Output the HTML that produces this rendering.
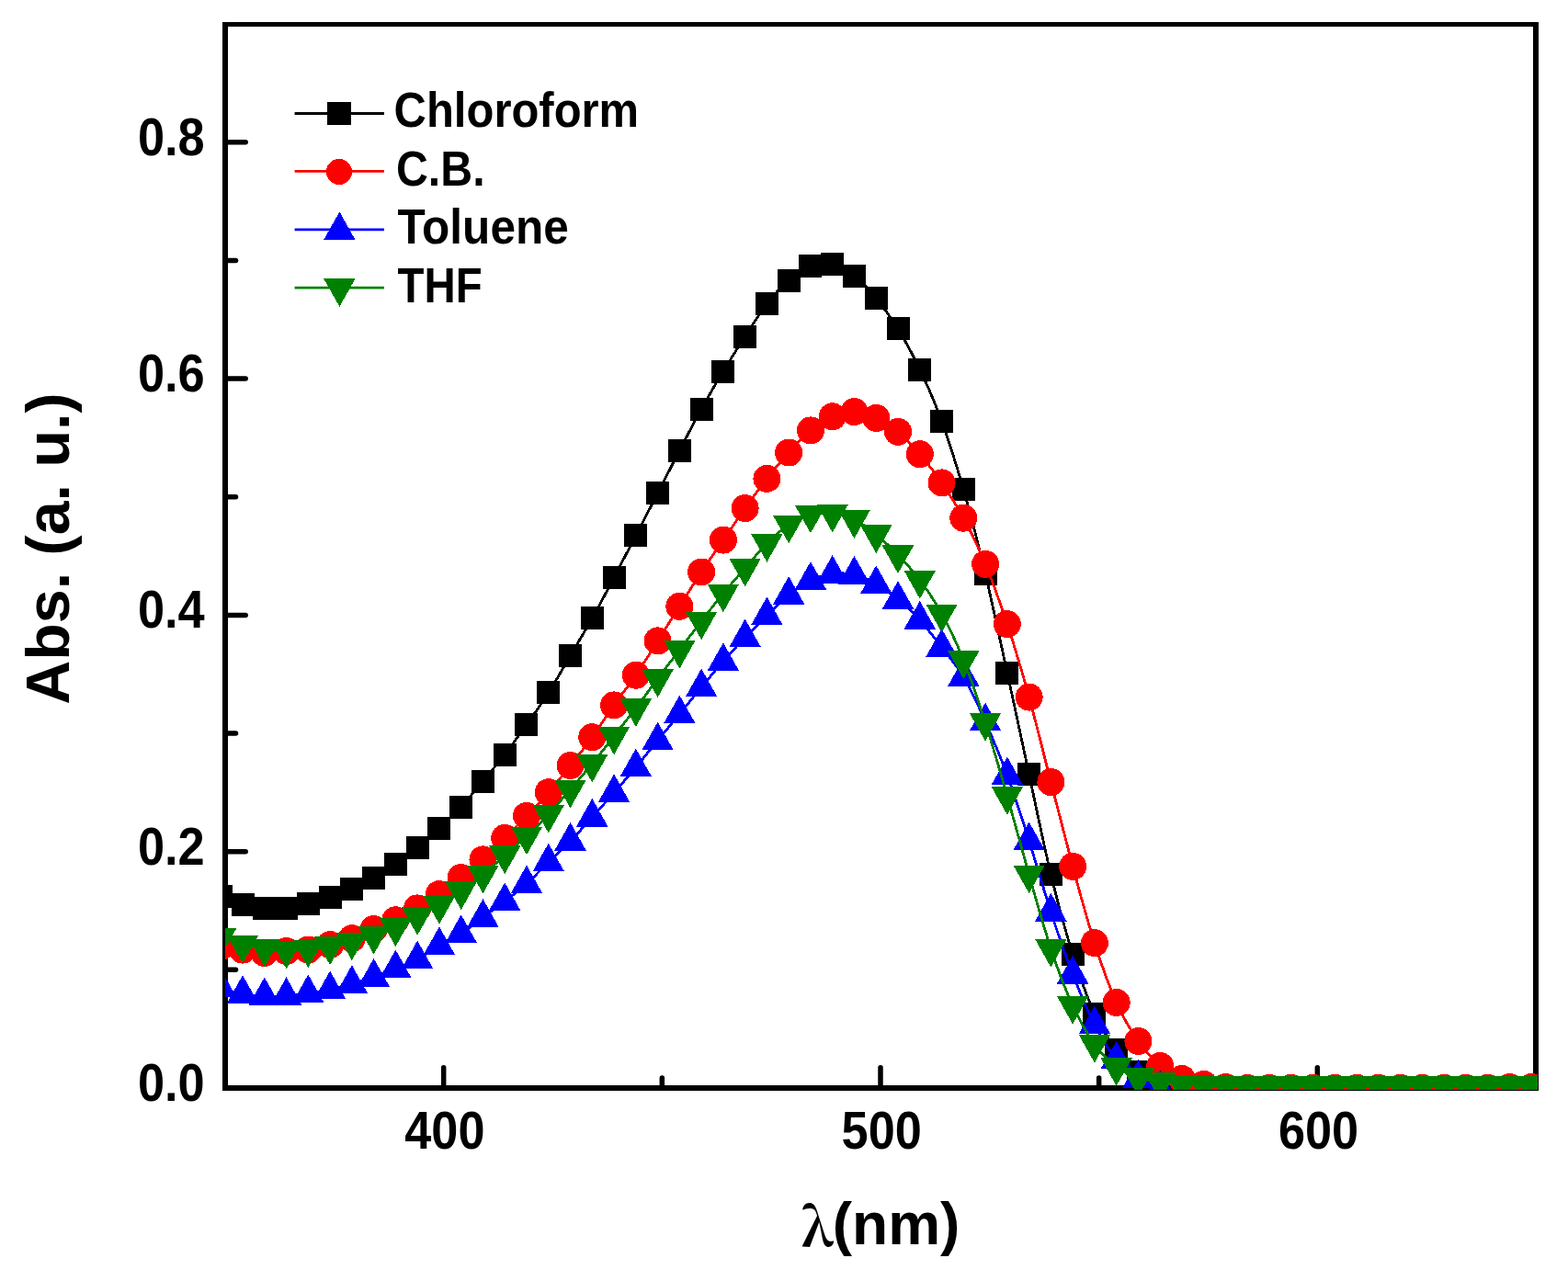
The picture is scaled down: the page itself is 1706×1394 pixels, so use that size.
<!DOCTYPE html>
<html><head><meta charset="utf-8"><title>Absorption spectra</title>
<style>
html,body{margin:0;padding:0;background:#fff;}
body{width:1706px;height:1394px;overflow:hidden;}
svg{display:block;}
text{font-family:"Liberation Sans",sans-serif;font-weight:bold;fill:#000;}
</style></head><body>
<svg width="1706" height="1394" viewBox="0 0 1706 1394">
<defs><clipPath id="pa"><rect x="245" y="26" width="1428" height="1160"/></clipPath></defs>
<rect x="0" y="0" width="1706" height="1394" fill="#fff"/>

<g fill="#000">
<rect x="242" y="24" width="6" height="1163"/>
<rect x="1668" y="24" width="6" height="1163"/>
<rect x="242" y="24" width="1432" height="5"/>
<rect x="242" y="1181" width="1432" height="6"/>
</g>
<g stroke="#000" stroke-width="5.5" stroke-linecap="round" fill="none">
<line x1="245" y1="926.7" x2="267.2" y2="926.7"/>
<line x1="245" y1="669.4" x2="267.2" y2="669.4"/>
<line x1="245" y1="412.1" x2="267.2" y2="412.1"/>
<line x1="245" y1="154.8" x2="267.2" y2="154.8"/>
<line x1="245" y1="1055.35" x2="256.5" y2="1055.35"/>
<line x1="245" y1="798.05" x2="256.5" y2="798.05"/>
<line x1="245" y1="540.75" x2="256.5" y2="540.75"/>
<line x1="245" y1="283.45" x2="256.5" y2="283.45"/>
<line x1="482.67" y1="1184" x2="482.67" y2="1161.7"/>
<line x1="958" y1="1184" x2="958" y2="1161.7"/>
<line x1="1433.33" y1="1184" x2="1433.33" y2="1161.7"/>
<line x1="720.33" y1="1184" x2="720.33" y2="1173"/>
<line x1="1195.67" y1="1184" x2="1195.67" y2="1173"/>
</g>
<g clip-path="url(#pa)" shape-rendering="crispEdges">
<path d="M240.25 975.8C248.17 978.83 256.09 981.87 264.01 984C271.94 986.13 279.86 987.36 287.78 988C295.7 988.64 303.62 988.69 311.55 988C319.47 987.31 327.39 985.88 335.31 983.9C343.24 981.92 351.16 979.39 359.08 976.7C367 974.01 374.92 971.17 382.85 967.7C390.77 964.23 398.69 960.12 406.61 955.5C414.54 950.88 422.46 945.76 430.38 940.3C438.3 934.84 446.22 929.03 454.15 922.4C462.07 915.77 469.99 908.32 477.91 901C485.84 893.68 493.76 886.5 501.68 878C509.6 869.5 517.52 859.67 525.45 850.1C533.37 840.53 541.29 831.23 549.21 821C557.14 810.77 565.06 799.6 572.98 788.5C580.9 777.4 588.82 766.35 596.75 753.8C604.67 741.25 612.59 727.19 620.51 713.6C628.44 700.01 636.36 686.89 644.28 672.8C652.2 658.71 660.12 643.66 668.05 628.5C675.97 613.34 683.89 598.07 691.81 582.8C699.74 567.53 707.66 552.28 715.58 536.8C723.5 521.32 731.42 505.62 739.35 490.2C747.27 474.78 755.19 459.62 763.11 445.2C771.04 430.78 778.96 417.08 786.88 404C794.8 390.92 802.72 378.45 810.65 366C818.57 353.55 826.49 341.12 834.41 330.7C842.34 320.28 850.26 311.86 858.18 305C866.1 298.14 874.02 292.84 881.95 289.8C889.87 286.76 897.79 285.99 905.71 287.7C913.64 289.41 921.56 293.6 929.48 300C937.4 306.4 945.32 315.02 953.25 324.7C961.17 334.38 969.09 345.11 977.01 357.9C984.94 370.69 992.86 385.54 1000.78 402C1008.7 418.46 1016.62 436.52 1024.55 458.2C1032.47 479.88 1040.39 505.19 1048.31 532.9C1056.24 560.61 1064.16 590.72 1072.08 624.4C1080 658.08 1087.92 695.33 1095.85 732C1103.77 768.67 1111.69 804.75 1119.61 842.2C1127.54 879.65 1135.46 918.46 1143.38 951.8C1151.3 985.14 1159.22 1012.99 1167.15 1038.2C1175.07 1063.41 1182.99 1085.97 1190.91 1103.1C1198.84 1120.23 1206.76 1131.93 1214.68 1142C1222.6 1152.07 1230.52 1160.51 1238.45 1166.2C1246.37 1171.89 1254.29 1174.84 1262.21 1177C1270.14 1179.16 1278.06 1180.53 1285.98 1181.5C1293.9 1182.47 1301.82 1183.03 1309.75 1183.5C1317.67 1183.97 1325.59 1184.36 1333.51 1184.5C1341.44 1184.64 1349.36 1184.54 1357.28 1184.5C1365.2 1184.46 1373.12 1184.49 1381.05 1184.5C1388.97 1184.51 1396.89 1184.5 1404.81 1184.5C1412.74 1184.5 1420.66 1184.5 1428.58 1184.5C1436.5 1184.5 1444.42 1184.5 1452.35 1184.5C1460.27 1184.5 1468.19 1184.5 1476.11 1184.5C1484.04 1184.5 1491.96 1184.5 1499.88 1184.5C1507.8 1184.5 1515.72 1184.5 1523.65 1184.5C1531.57 1184.5 1539.49 1184.5 1547.41 1184.5C1555.34 1184.5 1563.26 1184.5 1571.18 1184.5C1579.1 1184.5 1587.02 1184.5 1594.95 1184.5C1602.87 1184.5 1610.79 1184.5 1618.71 1184.5C1626.64 1184.5 1634.56 1184.5 1642.48 1184.5C1650.4 1184.5 1658.32 1184.5 1666.25 1184.5" fill="none" stroke="#000000" stroke-width="2.8" stroke-linejoin="round"/>
<g fill="#000000"><rect x="227.75" y="963.3" width="25" height="25"/><rect x="251.51" y="971.5" width="25" height="25"/><rect x="275.28" y="975.5" width="25" height="25"/><rect x="299.05" y="975.5" width="25" height="25"/><rect x="322.81" y="971.4" width="25" height="25"/><rect x="346.58" y="964.2" width="25" height="25"/><rect x="370.35" y="955.2" width="25" height="25"/><rect x="394.11" y="943" width="25" height="25"/><rect x="417.88" y="927.8" width="25" height="25"/><rect x="441.65" y="909.9" width="25" height="25"/><rect x="465.41" y="888.5" width="25" height="25"/><rect x="489.18" y="865.5" width="25" height="25"/><rect x="512.95" y="837.6" width="25" height="25"/><rect x="536.71" y="808.5" width="25" height="25"/><rect x="560.48" y="776" width="25" height="25"/><rect x="584.25" y="741.3" width="25" height="25"/><rect x="608.01" y="701.1" width="25" height="25"/><rect x="631.78" y="660.3" width="25" height="25"/><rect x="655.55" y="616" width="25" height="25"/><rect x="679.31" y="570.3" width="25" height="25"/><rect x="703.08" y="524.3" width="25" height="25"/><rect x="726.85" y="477.7" width="25" height="25"/><rect x="750.61" y="432.7" width="25" height="25"/><rect x="774.38" y="391.5" width="25" height="25"/><rect x="798.15" y="353.5" width="25" height="25"/><rect x="821.91" y="318.2" width="25" height="25"/><rect x="845.68" y="292.5" width="25" height="25"/><rect x="869.45" y="277.3" width="25" height="25"/><rect x="893.21" y="275.2" width="25" height="25"/><rect x="916.98" y="287.5" width="25" height="25"/><rect x="940.75" y="312.2" width="25" height="25"/><rect x="964.51" y="345.4" width="25" height="25"/><rect x="988.28" y="389.5" width="25" height="25"/><rect x="1012.05" y="445.7" width="25" height="25"/><rect x="1035.81" y="520.4" width="25" height="25"/><rect x="1059.58" y="611.9" width="25" height="25"/><rect x="1083.35" y="719.5" width="25" height="25"/><rect x="1107.11" y="829.7" width="25" height="25"/><rect x="1130.88" y="939.3" width="25" height="25"/><rect x="1154.65" y="1025.7" width="25" height="25"/><rect x="1178.41" y="1090.6" width="25" height="25"/><rect x="1202.18" y="1129.5" width="25" height="25"/><rect x="1225.95" y="1153.7" width="25" height="25"/><rect x="1249.71" y="1164.5" width="25" height="25"/><rect x="1273.48" y="1169" width="25" height="25"/><rect x="1297.25" y="1171" width="25" height="25"/><rect x="1321.01" y="1172" width="25" height="25"/><rect x="1344.78" y="1172" width="25" height="25"/><rect x="1368.55" y="1172" width="25" height="25"/><rect x="1392.31" y="1172" width="25" height="25"/><rect x="1416.08" y="1172" width="25" height="25"/><rect x="1439.85" y="1172" width="25" height="25"/><rect x="1463.61" y="1172" width="25" height="25"/><rect x="1487.38" y="1172" width="25" height="25"/><rect x="1511.15" y="1172" width="25" height="25"/><rect x="1534.91" y="1172" width="25" height="25"/><rect x="1558.68" y="1172" width="25" height="25"/><rect x="1582.45" y="1172" width="25" height="25"/><rect x="1606.21" y="1172" width="25" height="25"/><rect x="1629.98" y="1172" width="25" height="25"/><rect x="1653.75" y="1172" width="25" height="25"/></g>
<path d="M240.25 1030C248.17 1031.09 256.09 1032.19 264.01 1033.6C271.94 1035.01 279.86 1036.75 287.78 1036.9C295.7 1037.05 303.62 1035.63 311.55 1035C319.47 1034.37 327.39 1034.55 335.31 1033.5C343.24 1032.45 351.16 1030.19 359.08 1028.1C367 1026.01 374.92 1024.09 382.85 1021.2C390.77 1018.31 398.69 1014.44 406.61 1011.1C414.54 1007.76 422.46 1004.96 430.38 1001.3C438.3 997.64 446.22 993.14 454.15 988.4C462.07 983.66 469.99 978.69 477.91 973.1C485.84 967.51 493.76 961.32 501.68 955.1C509.6 948.88 517.52 942.64 525.45 935.4C533.37 928.16 541.29 919.94 549.21 911.9C557.14 903.86 565.06 896.01 572.98 887.9C580.9 879.79 588.82 871.42 596.75 862.2C604.67 852.98 612.59 842.92 620.51 833C628.44 823.08 636.36 813.32 644.28 802.2C652.2 791.08 660.12 778.62 668.05 767.4C675.97 756.18 683.89 746.22 691.81 734.7C699.74 723.18 707.66 710.11 715.58 697.4C723.5 684.69 731.42 672.34 739.35 659.8C747.27 647.26 755.19 634.54 763.11 622.5C771.04 610.46 778.96 599.12 786.88 587.6C794.8 576.08 802.72 564.4 810.65 553.1C818.57 541.8 826.49 530.9 834.41 520.8C842.34 510.7 850.26 501.4 858.18 492.5C866.1 483.6 874.02 475.1 881.95 468.4C889.87 461.7 897.79 456.79 905.71 453.3C913.64 449.81 921.56 447.73 929.48 448.1C937.4 448.47 945.32 451.27 953.25 455C961.17 458.73 969.09 463.38 977.01 469.9C984.94 476.42 992.86 484.81 1000.78 494.2C1008.7 503.59 1016.62 513.99 1024.55 525.4C1032.47 536.81 1040.39 549.23 1048.31 563.7C1056.24 578.17 1064.16 594.69 1072.08 613.9C1080 633.11 1087.92 655.01 1095.85 679.1C1103.77 703.19 1111.69 729.47 1119.61 758.6C1127.54 787.73 1135.46 819.72 1143.38 851.1C1151.3 882.48 1159.22 913.27 1167.15 942.9C1175.07 972.53 1182.99 1001.01 1190.91 1026.2C1198.84 1051.39 1206.76 1073.3 1214.68 1090.9C1222.6 1108.5 1230.52 1121.8 1238.45 1133C1246.37 1144.2 1254.29 1153.29 1262.21 1160C1270.14 1166.71 1278.06 1171.04 1285.98 1174C1293.9 1176.96 1301.82 1178.53 1309.75 1179.9C1317.67 1181.27 1325.59 1182.42 1333.51 1183.1C1341.44 1183.78 1349.36 1183.98 1357.28 1184C1365.2 1184.02 1373.12 1183.86 1381.05 1183.8C1388.97 1183.74 1396.89 1183.78 1404.81 1183.8C1412.74 1183.82 1420.66 1183.8 1428.58 1183.8C1436.5 1183.8 1444.42 1183.8 1452.35 1183.8C1460.27 1183.8 1468.19 1183.8 1476.11 1183.8C1484.04 1183.8 1491.96 1183.8 1499.88 1183.8C1507.8 1183.8 1515.72 1183.8 1523.65 1183.8C1531.57 1183.8 1539.49 1183.8 1547.41 1183.8C1555.34 1183.8 1563.26 1183.81 1571.18 1183.8C1579.1 1183.79 1587.02 1183.76 1594.95 1183.8C1602.87 1183.84 1610.79 1183.97 1618.71 1183.8C1626.64 1183.63 1634.56 1183.18 1642.48 1183C1650.4 1182.82 1658.32 1182.91 1666.25 1183" fill="none" stroke="#ff0000" stroke-width="2.8" stroke-linejoin="round"/>
<g fill="#ff0000"><circle cx="240.25" cy="1030" r="15"/><circle cx="264.01" cy="1033.6" r="15"/><circle cx="287.78" cy="1036.9" r="15"/><circle cx="311.55" cy="1035" r="15"/><circle cx="335.31" cy="1033.5" r="15"/><circle cx="359.08" cy="1028.1" r="15"/><circle cx="382.85" cy="1021.2" r="15"/><circle cx="406.61" cy="1011.1" r="15"/><circle cx="430.38" cy="1001.3" r="15"/><circle cx="454.15" cy="988.4" r="15"/><circle cx="477.91" cy="973.1" r="15"/><circle cx="501.68" cy="955.1" r="15"/><circle cx="525.45" cy="935.4" r="15"/><circle cx="549.21" cy="911.9" r="15"/><circle cx="572.98" cy="887.9" r="15"/><circle cx="596.75" cy="862.2" r="15"/><circle cx="620.51" cy="833" r="15"/><circle cx="644.28" cy="802.2" r="15"/><circle cx="668.05" cy="767.4" r="15"/><circle cx="691.81" cy="734.7" r="15"/><circle cx="715.58" cy="697.4" r="15"/><circle cx="739.35" cy="659.8" r="15"/><circle cx="763.11" cy="622.5" r="15"/><circle cx="786.88" cy="587.6" r="15"/><circle cx="810.65" cy="553.1" r="15"/><circle cx="834.41" cy="520.8" r="15"/><circle cx="858.18" cy="492.5" r="15"/><circle cx="881.95" cy="468.4" r="15"/><circle cx="905.71" cy="453.3" r="15"/><circle cx="929.48" cy="448.1" r="15"/><circle cx="953.25" cy="455" r="15"/><circle cx="977.01" cy="469.9" r="15"/><circle cx="1000.78" cy="494.2" r="15"/><circle cx="1024.55" cy="525.4" r="15"/><circle cx="1048.31" cy="563.7" r="15"/><circle cx="1072.08" cy="613.9" r="15"/><circle cx="1095.85" cy="679.1" r="15"/><circle cx="1119.61" cy="758.6" r="15"/><circle cx="1143.38" cy="851.1" r="15"/><circle cx="1167.15" cy="942.9" r="15"/><circle cx="1190.91" cy="1026.2" r="15"/><circle cx="1214.68" cy="1090.9" r="15"/><circle cx="1238.45" cy="1133" r="15"/><circle cx="1262.21" cy="1160" r="15"/><circle cx="1285.98" cy="1174" r="15"/><circle cx="1309.75" cy="1179.9" r="15"/><circle cx="1333.51" cy="1183.1" r="15"/><circle cx="1357.28" cy="1184" r="15"/><circle cx="1381.05" cy="1183.8" r="15"/><circle cx="1404.81" cy="1183.8" r="15"/><circle cx="1428.58" cy="1183.8" r="15"/><circle cx="1452.35" cy="1183.8" r="15"/><circle cx="1476.11" cy="1183.8" r="15"/><circle cx="1499.88" cy="1183.8" r="15"/><circle cx="1523.65" cy="1183.8" r="15"/><circle cx="1547.41" cy="1183.8" r="15"/><circle cx="1571.18" cy="1183.8" r="15"/><circle cx="1594.95" cy="1183.8" r="15"/><circle cx="1618.71" cy="1183.8" r="15"/><circle cx="1642.48" cy="1183" r="15"/><circle cx="1666.25" cy="1183" r="15"/></g>
<path d="M240.25 1075.1C248.17 1077.62 256.09 1080.13 264.01 1081.6C271.94 1083.07 279.86 1083.49 287.78 1083.8C295.7 1084.11 303.62 1084.31 311.55 1083.8C319.47 1083.29 327.39 1082.07 335.31 1080.9C343.24 1079.73 351.16 1078.59 359.08 1076.9C367 1075.21 374.92 1072.96 382.85 1070.7C390.77 1068.44 398.69 1066.17 406.61 1063.3C414.54 1060.43 422.46 1056.95 430.38 1053.9C438.3 1050.85 446.22 1048.22 454.15 1043.9C462.07 1039.58 469.99 1033.56 477.91 1028.8C485.84 1024.04 493.76 1020.54 501.68 1015.7C509.6 1010.86 517.52 1004.68 525.45 998.6C533.37 992.52 541.29 986.54 549.21 980.7C557.14 974.86 565.06 969.15 572.98 961.9C580.9 954.65 588.82 945.84 596.75 938C604.67 930.16 612.59 923.29 620.51 915.3C628.44 907.31 636.36 898.2 644.28 889.3C652.2 880.4 660.12 871.7 668.05 862.7C675.97 853.7 683.89 844.4 691.81 834.9C699.74 825.4 707.66 815.71 715.58 806C723.5 796.29 731.42 786.57 739.35 776.9C747.27 767.23 755.19 757.61 763.11 748C771.04 738.39 778.96 728.79 786.88 719.7C794.8 710.61 802.72 702.04 810.65 693.8C818.57 685.56 826.49 677.64 834.41 669.8C842.34 661.96 850.26 654.18 858.18 647.5C866.1 640.82 874.02 635.22 881.95 631.4C889.87 627.58 897.79 625.54 905.71 624.5C913.64 623.46 921.56 623.43 929.48 625.3C937.4 627.17 945.32 630.93 953.25 635.7C961.17 640.47 969.09 646.25 977.01 652.5C984.94 658.75 992.86 665.47 1000.78 674.4C1008.7 683.33 1016.62 694.46 1024.55 704.5C1032.47 714.54 1040.39 723.5 1048.31 736.6C1056.24 749.7 1064.16 766.95 1072.08 785.1C1080 803.25 1087.92 822.3 1095.85 843.8C1103.77 865.3 1111.69 889.26 1119.61 914.8C1127.54 940.34 1135.46 967.46 1143.38 992.3C1151.3 1017.14 1159.22 1039.69 1167.15 1060.2C1175.07 1080.71 1182.99 1099.18 1190.91 1114.9C1198.84 1130.62 1206.76 1143.58 1214.68 1153.1C1222.6 1162.62 1230.52 1168.71 1238.45 1173.6C1246.37 1178.49 1254.29 1182.18 1262.21 1185C1270.14 1187.82 1278.06 1189.75 1285.98 1191C1293.9 1192.25 1301.82 1192.8 1309.75 1193C1317.67 1193.2 1325.59 1193.05 1333.51 1193C1341.44 1192.95 1349.36 1192.99 1357.28 1193C1365.2 1193.01 1373.12 1193 1381.05 1193C1388.97 1193 1396.89 1193 1404.81 1193C1412.74 1193 1420.66 1193 1428.58 1193C1436.5 1193 1444.42 1193 1452.35 1193C1460.27 1193 1468.19 1193 1476.11 1193C1484.04 1193 1491.96 1193 1499.88 1193C1507.8 1193 1515.72 1193 1523.65 1193C1531.57 1193 1539.49 1193 1547.41 1193C1555.34 1193 1563.26 1193 1571.18 1193C1579.1 1193 1587.02 1193 1594.95 1193C1602.87 1193 1610.79 1193 1618.71 1193C1626.64 1193 1634.56 1193 1642.48 1193C1650.4 1193 1658.32 1193 1666.25 1193" fill="none" stroke="#0000ff" stroke-width="2.8" stroke-linejoin="round"/>
<g fill="#0000ff"><path d="M240.25 1054.7L257.5 1085.4L223 1085.4Z"/><path d="M264.01 1061.2L281.26 1091.9L246.76 1091.9Z"/><path d="M287.78 1063.4L305.03 1094.1L270.53 1094.1Z"/><path d="M311.55 1063.4L328.8 1094.1L294.3 1094.1Z"/><path d="M335.31 1060.5L352.56 1091.2L318.06 1091.2Z"/><path d="M359.08 1056.5L376.33 1087.2L341.83 1087.2Z"/><path d="M382.85 1050.3L400.1 1081L365.6 1081Z"/><path d="M406.61 1042.9L423.86 1073.6L389.36 1073.6Z"/><path d="M430.38 1033.5L447.63 1064.2L413.13 1064.2Z"/><path d="M454.15 1023.5L471.4 1054.2L436.9 1054.2Z"/><path d="M477.91 1008.4L495.16 1039.1L460.66 1039.1Z"/><path d="M501.68 995.3L518.93 1026L484.43 1026Z"/><path d="M525.45 978.2L542.7 1008.9L508.2 1008.9Z"/><path d="M549.21 960.3L566.46 991L531.96 991Z"/><path d="M572.98 941.5L590.23 972.2L555.73 972.2Z"/><path d="M596.75 917.6L614 948.3L579.5 948.3Z"/><path d="M620.51 894.9L637.76 925.6L603.26 925.6Z"/><path d="M644.28 868.9L661.53 899.6L627.03 899.6Z"/><path d="M668.05 842.3L685.3 873L650.8 873Z"/><path d="M691.81 814.5L709.06 845.2L674.56 845.2Z"/><path d="M715.58 785.6L732.83 816.3L698.33 816.3Z"/><path d="M739.35 756.5L756.6 787.2L722.1 787.2Z"/><path d="M763.11 727.6L780.36 758.3L745.86 758.3Z"/><path d="M786.88 699.3L804.13 730L769.63 730Z"/><path d="M810.65 673.4L827.9 704.1L793.4 704.1Z"/><path d="M834.41 649.4L851.66 680.1L817.16 680.1Z"/><path d="M858.18 627.1L875.43 657.8L840.93 657.8Z"/><path d="M881.95 611L899.2 641.7L864.7 641.7Z"/><path d="M905.71 604.1L922.96 634.8L888.46 634.8Z"/><path d="M929.48 604.9L946.73 635.6L912.23 635.6Z"/><path d="M953.25 615.3L970.5 646L936 646Z"/><path d="M977.01 632.1L994.26 662.8L959.76 662.8Z"/><path d="M1000.78 654L1018.03 684.7L983.53 684.7Z"/><path d="M1024.55 684.1L1041.8 714.8L1007.3 714.8Z"/><path d="M1048.31 716.2L1065.56 746.9L1031.06 746.9Z"/><path d="M1072.08 764.7L1089.33 795.4L1054.83 795.4Z"/><path d="M1095.85 823.4L1113.1 854.1L1078.6 854.1Z"/><path d="M1119.61 894.4L1136.86 925.1L1102.36 925.1Z"/><path d="M1143.38 971.9L1160.63 1002.6L1126.13 1002.6Z"/><path d="M1167.15 1039.8L1184.4 1070.5L1149.9 1070.5Z"/><path d="M1190.91 1094.5L1208.16 1125.2L1173.66 1125.2Z"/><path d="M1214.68 1132.7L1231.93 1163.4L1197.43 1163.4Z"/><path d="M1238.45 1153.2L1255.7 1183.9L1221.2 1183.9Z"/><path d="M1262.21 1164.6L1279.46 1195.3L1244.96 1195.3Z"/><path d="M1285.98 1170.6L1303.23 1201.3L1268.73 1201.3Z"/><path d="M1309.75 1172.6L1327 1203.3L1292.5 1203.3Z"/><path d="M1333.51 1172.6L1350.76 1203.3L1316.26 1203.3Z"/><path d="M1357.28 1172.6L1374.53 1203.3L1340.03 1203.3Z"/><path d="M1381.05 1172.6L1398.3 1203.3L1363.8 1203.3Z"/><path d="M1404.81 1172.6L1422.06 1203.3L1387.56 1203.3Z"/><path d="M1428.58 1172.6L1445.83 1203.3L1411.33 1203.3Z"/><path d="M1452.35 1172.6L1469.6 1203.3L1435.1 1203.3Z"/><path d="M1476.11 1172.6L1493.36 1203.3L1458.86 1203.3Z"/><path d="M1499.88 1172.6L1517.13 1203.3L1482.63 1203.3Z"/><path d="M1523.65 1172.6L1540.9 1203.3L1506.4 1203.3Z"/><path d="M1547.41 1172.6L1564.66 1203.3L1530.16 1203.3Z"/><path d="M1571.18 1172.6L1588.43 1203.3L1553.93 1203.3Z"/><path d="M1594.95 1172.6L1612.2 1203.3L1577.7 1203.3Z"/><path d="M1618.71 1172.6L1635.96 1203.3L1601.46 1203.3Z"/><path d="M1642.48 1172.6L1659.73 1203.3L1625.23 1203.3Z"/><path d="M1666.25 1172.6L1683.5 1203.3L1649 1203.3Z"/></g>
<path d="M240.25 1020.2C248.17 1023 256.09 1025.8 264.01 1027.8C271.94 1029.8 279.86 1031.01 287.78 1032C295.7 1032.99 303.62 1033.76 311.55 1033.9C319.47 1034.04 327.39 1033.56 335.31 1032.8C343.24 1032.04 351.16 1031.02 359.08 1029.7C367 1028.38 374.92 1026.77 382.85 1024.8C390.77 1022.83 398.69 1020.5 406.61 1018.1C414.54 1015.7 422.46 1013.23 430.38 1009.7C438.3 1006.17 446.22 1001.58 454.15 997.5C462.07 993.42 469.99 989.85 477.91 985.3C485.84 980.75 493.76 975.21 501.68 969.7C509.6 964.19 517.52 958.7 525.45 952.1C533.37 945.5 541.29 937.8 549.21 930.7C557.14 923.6 565.06 917.09 572.98 909.9C580.9 902.71 588.82 894.83 596.75 886.2C604.67 877.57 612.59 868.17 620.51 859C628.44 849.83 636.36 840.87 644.28 831.2C652.2 821.53 660.12 811.16 668.05 801C675.97 790.84 683.89 780.91 691.81 770.5C699.74 760.09 707.66 749.21 715.58 738.6C723.5 727.99 731.42 717.64 739.35 707.2C747.27 696.76 755.19 686.22 763.11 675.9C771.04 665.58 778.96 655.47 786.88 645.9C794.8 636.33 802.72 627.3 810.65 618.1C818.57 608.9 826.49 599.52 834.41 591.4C842.34 583.28 850.26 576.4 858.18 571C866.1 565.6 874.02 561.67 881.95 559.8C889.87 557.93 897.79 558.13 905.71 559.1C913.64 560.07 921.56 561.83 929.48 565.6C937.4 569.37 945.32 575.15 953.25 581.7C961.17 588.25 969.09 595.57 977.01 603.7C984.94 611.83 992.86 620.77 1000.78 631.2C1008.7 641.63 1016.62 653.56 1024.55 667.8C1032.47 682.04 1040.39 698.59 1048.31 718.4C1056.24 738.21 1064.16 761.28 1072.08 786.3C1080 811.32 1087.92 838.29 1095.85 866.3C1103.77 894.31 1111.69 923.36 1119.61 951.8C1127.54 980.24 1135.46 1008.08 1143.38 1032.3C1151.3 1056.52 1159.22 1077.13 1167.15 1094.3C1175.07 1111.47 1182.99 1125.19 1190.91 1136.2C1198.84 1147.21 1206.76 1155.49 1214.68 1161.3C1222.6 1167.11 1230.52 1170.43 1238.45 1172.7C1246.37 1174.97 1254.29 1176.19 1262.21 1177.3C1270.14 1178.41 1278.06 1179.42 1285.98 1180.1C1293.9 1180.78 1301.82 1181.12 1309.75 1181.3C1317.67 1181.48 1325.59 1181.49 1333.51 1181.5C1341.44 1181.51 1349.36 1181.5 1357.28 1181.5C1365.2 1181.5 1373.12 1181.5 1381.05 1181.5C1388.97 1181.5 1396.89 1181.5 1404.81 1181.5C1412.74 1181.5 1420.66 1181.5 1428.58 1181.5C1436.5 1181.5 1444.42 1181.5 1452.35 1181.5C1460.27 1181.5 1468.19 1181.5 1476.11 1181.5C1484.04 1181.5 1491.96 1181.5 1499.88 1181.5C1507.8 1181.5 1515.72 1181.5 1523.65 1181.5C1531.57 1181.5 1539.49 1181.5 1547.41 1181.5C1555.34 1181.5 1563.26 1181.5 1571.18 1181.5C1579.1 1181.5 1587.02 1181.5 1594.95 1181.5C1602.87 1181.5 1610.79 1181.5 1618.71 1181.5C1626.64 1181.5 1634.56 1181.5 1642.48 1181.5C1650.4 1181.5 1658.32 1181.5 1666.25 1181.5" fill="none" stroke="#008000" stroke-width="2.8" stroke-linejoin="round"/>
<g fill="#008000"><path d="M240.25 1040.6L257.5 1009.9L223 1009.9Z"/><path d="M264.01 1048.2L281.26 1017.5L246.76 1017.5Z"/><path d="M287.78 1052.4L305.03 1021.7L270.53 1021.7Z"/><path d="M311.55 1054.3L328.8 1023.6L294.3 1023.6Z"/><path d="M335.31 1053.2L352.56 1022.5L318.06 1022.5Z"/><path d="M359.08 1050.1L376.33 1019.4L341.83 1019.4Z"/><path d="M382.85 1045.2L400.1 1014.5L365.6 1014.5Z"/><path d="M406.61 1038.5L423.86 1007.8L389.36 1007.8Z"/><path d="M430.38 1030.1L447.63 999.4L413.13 999.4Z"/><path d="M454.15 1017.9L471.4 987.2L436.9 987.2Z"/><path d="M477.91 1005.7L495.16 975L460.66 975Z"/><path d="M501.68 990.1L518.93 959.4L484.43 959.4Z"/><path d="M525.45 972.5L542.7 941.8L508.2 941.8Z"/><path d="M549.21 951.1L566.46 920.4L531.96 920.4Z"/><path d="M572.98 930.3L590.23 899.6L555.73 899.6Z"/><path d="M596.75 906.6L614 875.9L579.5 875.9Z"/><path d="M620.51 879.4L637.76 848.7L603.26 848.7Z"/><path d="M644.28 851.6L661.53 820.9L627.03 820.9Z"/><path d="M668.05 821.4L685.3 790.7L650.8 790.7Z"/><path d="M691.81 790.9L709.06 760.2L674.56 760.2Z"/><path d="M715.58 759L732.83 728.3L698.33 728.3Z"/><path d="M739.35 727.6L756.6 696.9L722.1 696.9Z"/><path d="M763.11 696.3L780.36 665.6L745.86 665.6Z"/><path d="M786.88 666.3L804.13 635.6L769.63 635.6Z"/><path d="M810.65 638.5L827.9 607.8L793.4 607.8Z"/><path d="M834.41 611.8L851.66 581.1L817.16 581.1Z"/><path d="M858.18 591.4L875.43 560.7L840.93 560.7Z"/><path d="M881.95 580.2L899.2 549.5L864.7 549.5Z"/><path d="M905.71 579.5L922.96 548.8L888.46 548.8Z"/><path d="M929.48 586L946.73 555.3L912.23 555.3Z"/><path d="M953.25 602.1L970.5 571.4L936 571.4Z"/><path d="M977.01 624.1L994.26 593.4L959.76 593.4Z"/><path d="M1000.78 651.6L1018.03 620.9L983.53 620.9Z"/><path d="M1024.55 688.2L1041.8 657.5L1007.3 657.5Z"/><path d="M1048.31 738.8L1065.56 708.1L1031.06 708.1Z"/><path d="M1072.08 806.7L1089.33 776L1054.83 776Z"/><path d="M1095.85 886.7L1113.1 856L1078.6 856Z"/><path d="M1119.61 972.2L1136.86 941.5L1102.36 941.5Z"/><path d="M1143.38 1052.7L1160.63 1022L1126.13 1022Z"/><path d="M1167.15 1114.7L1184.4 1084L1149.9 1084Z"/><path d="M1190.91 1156.6L1208.16 1125.9L1173.66 1125.9Z"/><path d="M1214.68 1181.7L1231.93 1151L1197.43 1151Z"/><path d="M1238.45 1193.1L1255.7 1162.4L1221.2 1162.4Z"/><path d="M1262.21 1197.7L1279.46 1167L1244.96 1167Z"/><path d="M1285.98 1200.5L1303.23 1169.8L1268.73 1169.8Z"/><path d="M1309.75 1201.7L1327 1171L1292.5 1171Z"/><path d="M1333.51 1201.9L1350.76 1171.2L1316.26 1171.2Z"/><path d="M1357.28 1201.9L1374.53 1171.2L1340.03 1171.2Z"/><path d="M1381.05 1201.9L1398.3 1171.2L1363.8 1171.2Z"/><path d="M1404.81 1201.9L1422.06 1171.2L1387.56 1171.2Z"/><path d="M1428.58 1201.9L1445.83 1171.2L1411.33 1171.2Z"/><path d="M1452.35 1201.9L1469.6 1171.2L1435.1 1171.2Z"/><path d="M1476.11 1201.9L1493.36 1171.2L1458.86 1171.2Z"/><path d="M1499.88 1201.9L1517.13 1171.2L1482.63 1171.2Z"/><path d="M1523.65 1201.9L1540.9 1171.2L1506.4 1171.2Z"/><path d="M1547.41 1201.9L1564.66 1171.2L1530.16 1171.2Z"/><path d="M1571.18 1201.9L1588.43 1171.2L1553.93 1171.2Z"/><path d="M1594.95 1201.9L1612.2 1171.2L1577.7 1171.2Z"/><path d="M1618.71 1201.9L1635.96 1171.2L1601.46 1171.2Z"/><path d="M1642.48 1201.9L1659.73 1171.2L1625.23 1171.2Z"/><path d="M1666.25 1201.9L1683.5 1171.2L1649 1171.2Z"/></g>
</g>
<line x1="320.6" y1="123.5" x2="417.9" y2="123.5" stroke="#000000" stroke-width="2.8"/>
<g fill="#000000" shape-rendering="crispEdges"><rect x="356" y="110.9" width="26" height="25"/></g>
<line x1="320.6" y1="186.4" x2="417.9" y2="186.4" stroke="#ff0000" stroke-width="2.8"/>
<g fill="#ff0000" shape-rendering="crispEdges"><circle cx="369" cy="187" r="14.1"/></g>
<line x1="320.6" y1="249.8" x2="417.9" y2="249.8" stroke="#0000ff" stroke-width="2.8"/>
<g fill="#0000ff" shape-rendering="crispEdges"><path d="M369.4 230.4L386.65 261.1L352.15 261.1Z"/></g>
<line x1="320.6" y1="313.2" x2="417.9" y2="313.2" stroke="#008000" stroke-width="2.8"/>
<g fill="#008000" shape-rendering="crispEdges"><path d="M369.4 333.8L386.65 303.1L352.15 303.1Z"/></g>
<text transform="translate(149.9 1197.9) scale(0.907 1)" font-size="57.75">0.0</text>
<text transform="translate(149.9 940.6) scale(0.907 1)" font-size="57.75">0.2</text>
<text transform="translate(149.9 683.3) scale(0.907 1)" font-size="57.75">0.4</text>
<text transform="translate(149.9 426) scale(0.907 1)" font-size="57.75">0.6</text>
<text transform="translate(149.9 168.7) scale(0.907 1)" font-size="57.75">0.8</text>
<text transform="translate(483.87 1250.1) scale(0.905 1)" font-size="57.75" text-anchor="middle">400</text>
<text transform="translate(959.2 1250.1) scale(0.905 1)" font-size="57.75" text-anchor="middle">500</text>
<text transform="translate(1434.53 1250.1) scale(0.905 1)" font-size="57.75" text-anchor="middle">600</text>
<text transform="translate(428.6 138.1) scale(0.924 1)" font-size="53">Chloroform</text>
<text transform="translate(430.9 201.6) scale(0.912 1)" font-size="53">C.B.</text>
<text transform="translate(432.5 265.1) scale(0.935 1)" font-size="53">Toluene</text>
<text transform="translate(432.6 328.8) scale(0.894 1)" font-size="53">THF</text>
<text transform="translate(75.1 766.8) rotate(-90) scale(0.984 1)" font-size="67.5">Abs. (a. u.)</text>
<text transform="translate(871.8 1355.65) scale(0.966 1)" font-size="57.7" style="font-family:'Noto Serif CJK SC','Liberation Serif',serif">λ</text>
<text transform="translate(905.7 1354.35) scale(0.9855 1)" font-size="65">(nm)</text>
</svg></body></html>
